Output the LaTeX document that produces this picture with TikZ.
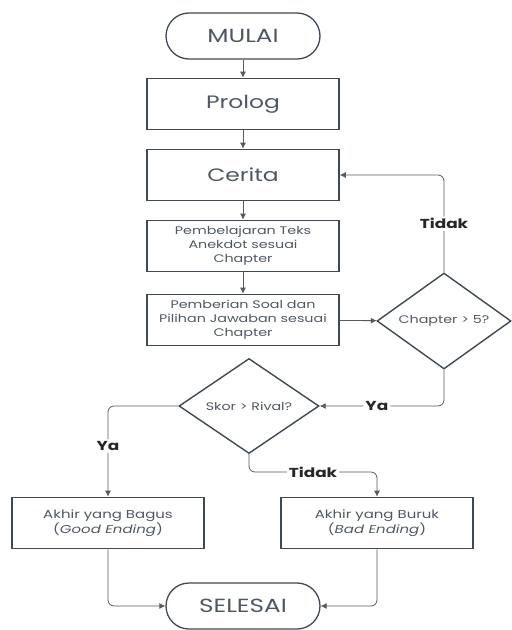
\documentclass[tikz,border=0pt]{standalone}
\usepackage{fontspec}
\setmainfont{Poppins}[FakeStretch=1.3]
\usetikzlibrary{shapes.geometric,arrows.meta}
\definecolor{edgegray}{HTML}{3E4857}
\definecolor{textgray}{HTML}{4F5766}
\definecolor{linegray}{HTML}{5A5A5A}
\begin{document}
\begin{tikzpicture}[x=1pt,y=-1pt,
  terminal/.style={draw=edgegray,line width=1.3pt,rounded corners=23pt,minimum width=154pt,minimum height=46pt,text=textgray,font=\fontsize{19}{22}\selectfont},
  stepbox/.style={draw=edgegray,line width=1.6pt,minimum width=192pt,minimum height=51pt,text=textgray,align=center,inner sep=2pt},
  decision/.style={draw=edgegray,line width=1.4pt,diamond,aspect=1.4,inner sep=0pt,text=textgray,font=\fontsize{11}{13}\selectfont},
  flow/.style={draw=linegray,line width=0.8pt,-{Latex[length=6pt,width=6pt]},rounded corners=6pt},
  answer/.style={fill=white,inner sep=2pt,font=\fontsize{13}{15}\selectfont\bfseries,text=black!85}]
\useasboundingbox (0,0) rectangle (512,630);
% nodes
\node[terminal] (mulai) at (243,36) {MULAI};
\node[stepbox,font=\fontsize{18}{21}\selectfont] (prolog) at (243,104) {Prolog};
\node[stepbox,font=\fontsize{18}{21}\selectfont] (cerita) at (243,175) {Cerita};
\node[stepbox,font=\fontsize{11}{14}\selectfont] (belajar) at (243,246) {Pembelajaran Teks\\Anekdot sesuai\\Chapter};
\node[stepbox,font=\fontsize{11}{14}\selectfont] (soal) at (243,320) {Pemberian Soal dan\\Pilihan Jawaban sesuai\\Chapter};
\node[decision,minimum width=134pt,minimum height=96pt] (chap) at (444,321) {Chapter > 5?};
\node[decision,minimum width=140pt,minimum height=95pt] (skor) at (249,406) {Skor > Rival?};
\node[stepbox,font=\fontsize{11.5}{15}\selectfont] (bagus) at (108,523) {Akhir yang Bagus\\(\textit{Good Ending})};
\node[stepbox,font=\fontsize{11.5}{15}\selectfont] (buruk) at (377,523) {Akhir yang Buruk\\(\textit{Bad Ending})};
\node[terminal] (selesai) at (243,606) {SELESAI};
% connectors
\draw[flow] (mulai) -- (prolog);
\draw[flow] (prolog) -- (cerita);
\draw[flow] (cerita) -- (belajar);
\draw[flow] (belajar) -- (soal);
\draw[flow] (soal) -- (chap);
\draw[flow] (chap.north) |- (cerita.east) node[answer,pos=0.25] {Tidak};
\draw[flow] (chap.south) |- (skor.east) node[answer,pos=0.77] {Ya};
\draw[flow] (skor.west) -| (bagus.north) node[answer,pos=0.72] {Ya};
\draw[flow] (skor.south) |- (313,472) node[answer] {Tidak} -| (buruk.north);
\draw[flow] (bagus.south) |- (selesai.west);
\draw[flow] (buruk.south) |- (selesai.east);
\end{tikzpicture}
\end{document}
